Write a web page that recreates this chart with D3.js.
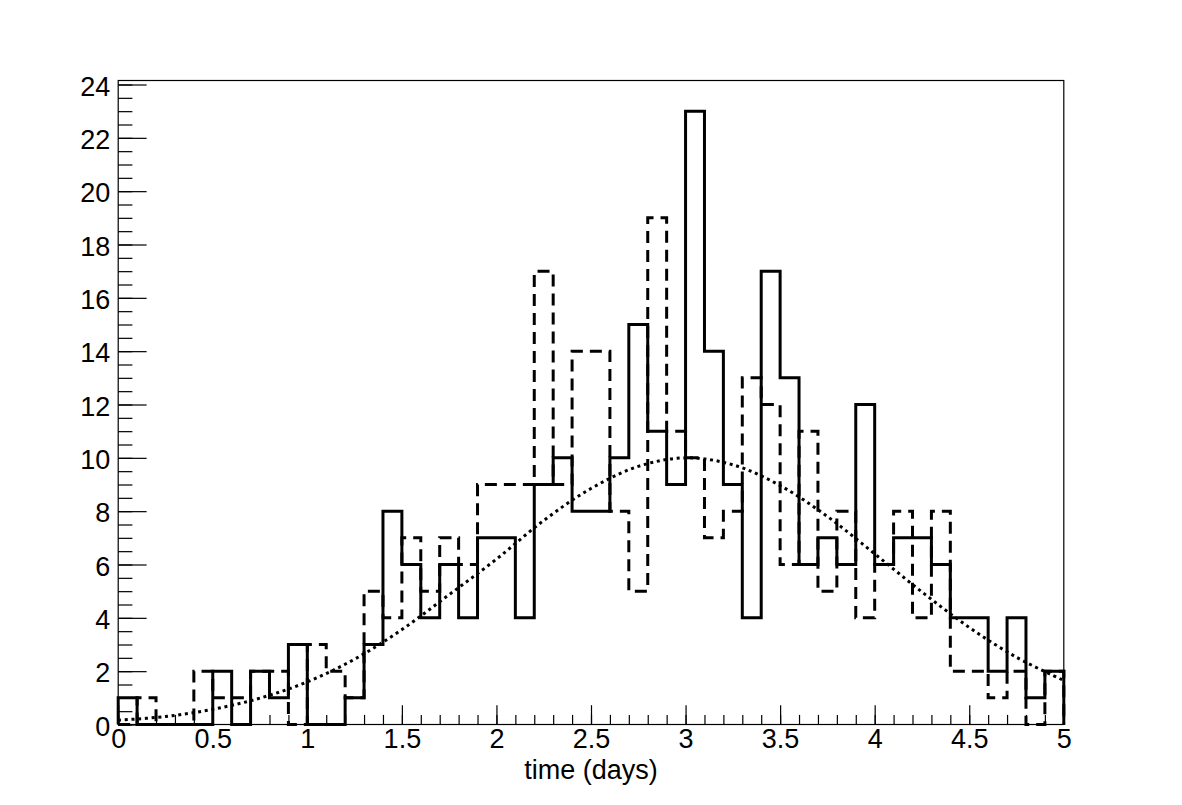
<!DOCTYPE html>
<html>

<head>
  <title>time histogram</title>
  <script src='https://d3js.org/d3.v7.min.js'></script>
  <style>
    body {
      margin: 0;
      background: white;
    }

    text {
      font-family: 'Liberation Sans', Arial, Helvetica, sans-serif;
    }
  </style>
</head>

<body>
  <svg id="canvas" height='805' width='1182'></svg>

  <script>
    // bin edges: 50 bins of 0.1 day between 0 and 5
    const binEdges = d3.range(0, 51).map(i => i / 10);

    // solid histogram, one count per bin
    const solidCounts = [1, 0, 0, 0, 0, 2, 0, 2, 1, 3,
      0, 0, 1, 3, 8, 6, 4, 6, 4, 7,
      7, 4, 9, 10, 8, 8, 10, 15, 11, 9,
      23, 14, 9, 4, 17, 13, 6, 7, 6, 12,
      6, 7, 7, 6, 4, 4, 2, 4, 1, 2];

    // dashed histogram
    const dashedCounts = [0, 1, 0, 0, 2, 1, 1, 2, 2, 0,
      3, 2, 1, 5, 4, 7, 5, 7, 6, 9,
      9, 9, 17, 9, 14, 14, 8, 5, 19, 11,
      10, 7, 8, 13, 12, 6, 11, 5, 8, 4,
      6, 8, 4, 8, 2, 2, 1, 2, 0, 2];

    // dotted curve, every 0.25 day
    const curveX = [0, 0.25, 0.5, 0.75, 1, 1.25, 1.5, 1.75, 2, 2.25, 2.5,
      2.75, 3, 3.25, 3.5, 3.75, 4, 4.25, 4.5, 4.75, 5];
    const curveY = [0.16, 0.3, 0.57, 0.99, 1.6, 2.45, 3.56, 4.87, 6.2, 7.65, 8.85,
      9.68, 10.0, 9.74, 8.96, 7.8, 6.4, 4.97, 3.64, 2.52, 1.65];

    const xTicks = [0, 0.5, 1, 1.5, 2, 2.5, 3, 3.5, 4, 4.5, 5];
    const xTickLabels = ['0', '0.5', '1', '1.5', '2', '2.5', '3', '3.5', '4', '4.5', '5'];
    const yTicks = [0, 2, 4, 6, 8, 10, 12, 14, 16, 18, 20, 22, 24];
    const xTitle = 'time (days)';

    /** Dimensions and scales */
    const svg = d3.select('svg#canvas');
    const margins = { top: 80.5, right: 118.2, bottom: 80.5, left: 118.2 };
    const chartWidth = 1182 - margins.left - margins.right;
    const chartHeight = 805 - margins.top - margins.bottom;

    const xScale = d3.scaleLinear().domain([0, 5]).range([0, chartWidth]);
    const yScale = d3.scaleLinear().domain([0, 24.15]).range([chartHeight, 0]);

    const chartArea = svg.append('g')
      .attr('transform', `translate(${margins.left}, ${margins.top})`);

    // histogram outline: up from zero at the first edge, steps, back to zero
    function stepPoints(counts) {
      const pts = [[binEdges[0], 0]];
      counts.forEach((c, i) => {
        pts.push([binEdges[i], c]);
        pts.push([binEdges[i + 1], c]);
      });
      pts.push([binEdges[binEdges.length - 1], 0]);
      return pts;
    }

    const stepLine = d3.line()
      .x(d => xScale(d[0]))
      .y(d => yScale(d[1]));

    /** Axes and frame */
    const yAxis = d3.axisLeft(yScale)
      .tickValues(yTicks)
      .tickSize(-28.4)
      .tickPadding(8)
      .tickFormat(d3.format('d'));
    const yMinor = d3.axisLeft(yScale)
      .tickValues(d3.range(0, 24.01, 0.5))
      .tickSize(-14.2)
      .tickFormat('');

    const xAxis = d3.axisBottom(xScale)
      .tickValues(xTicks)
      .tickSize(-19.3)
      .tickFormat((d, i) => xTickLabels[i]);
    const xMinor = d3.axisBottom(xScale)
      .tickValues(d3.range(0, 5.001, 0.1))
      .tickSize(-9.6)
      .tickFormat('');

    chartArea.append('g').attr('class', 'y minor').call(yMinor);
    const yG = chartArea.append('g').attr('class', 'y axis').call(yAxis);
    chartArea.append('g').attr('class', 'x minor')
      .attr('transform', `translate(0, ${chartHeight})`).call(xMinor);
    const xG = chartArea.append('g').attr('class', 'x axis')
      .attr('transform', `translate(0, ${chartHeight})`).call(xAxis);

    chartArea.selectAll('.domain').remove();
    chartArea.selectAll('.tick line')
      .attr('stroke', 'black')
      .attr('stroke-width', 1.2);

    yG.selectAll('text')
      .attr('dy', '0.4em')
      .style('font-size', '27px')
      .attr('fill', 'black');
    xG.selectAll('text')
      .attr('dy', null)
      .attr('y', 23)
      .style('font-size', '27px')
      .attr('fill', 'black');

    chartArea.append('rect')
      .attr('x', 0)
      .attr('y', 0)
      .attr('width', chartWidth)
      .attr('height', chartHeight)
      .attr('fill', 'none')
      .attr('stroke', 'black')
      .attr('stroke-width', 1.2);

    /** Histograms and curve */
    chartArea.append('path')
      .attr('d', stepLine(stepPoints(dashedCounts)))
      .attr('fill', 'none')
      .attr('stroke', 'black')
      .attr('stroke-width', 3)
      .attr('stroke-dasharray', '12,7');

    chartArea.append('path')
      .attr('d', stepLine(stepPoints(solidCounts)))
      .attr('fill', 'none')
      .attr('stroke', 'black')
      .attr('stroke-width', 3);

    const fitLine = d3.line()
      .x((d, i) => xScale(curveX[i]))
      .y(d => yScale(d))
      .curve(d3.curveCatmullRom);

    chartArea.append('path')
      .attr('d', fitLine(curveY))
      .attr('fill', 'none')
      .attr('stroke', 'black')
      .attr('stroke-width', 3)
      .attr('stroke-dasharray', '3,3.7');

    // x-axis title
    chartArea.append('text')
      .attr('text-anchor', 'middle')
      .attr('x', chartWidth / 2)
      .attr('y', chartHeight + 54)
      .text(xTitle)
      .style('font-size', '27px')
      .attr('fill', 'black');
  </script>

</body>

</html>
